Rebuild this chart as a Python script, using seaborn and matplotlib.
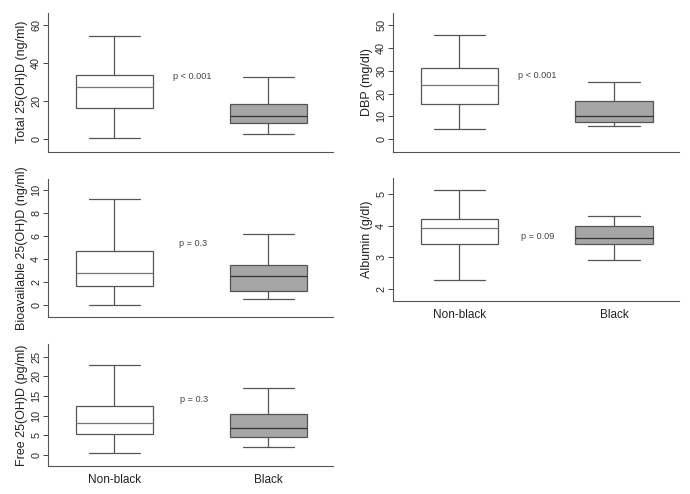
import pandas as pd
import seaborn as sns
import matplotlib.pyplot as plt

# groups and five-number summaries (min, Q1, median, Q3, max)
groups = ['Non-black', 'Black']

total_nonblack = [0.7, 16.3, 27.5, 33.5, 54.4]
total_black = [2.6, 8.7, 12.1, 18.4, 32.8]

dbp_nonblack = [4.5, 15.6, 23.8, 31.1, 45.8]
dbp_black = [5.6, 7.6, 10.0, 16.7, 25.2]

bio_nonblack = [0.0, 1.63, 2.77, 4.66, 9.25]
bio_black = [0.47, 1.2, 2.48, 3.47, 6.21]

alb_nonblack = [2.29, 3.43, 3.92, 4.2, 5.13]
alb_black = [2.9, 3.43, 3.6, 4.0, 4.3]

free_nonblack = [0.42, 5.42, 8.05, 12.54, 22.96]
free_black = [1.95, 4.66, 6.78, 10.5, 16.95]

ylabels = ['Total 25(OH)D (ng/ml)', 'DBP (mg/dl)', 'Bioavailable 25(OH)D (ng/ml)',
           'Albumin (g/dl)', 'Free 25(OH)D (pg/ml)']
pvalues = ['p < 0.001', 'p < 0.001', 'p = 0.3', 'p = 0.09', 'p = 0.3']
p_pos = [(0.38, 33), (0.38, 27.9), (0.42, 5.34), (0.40, 3.67), (0.43, 14.2)]
yticks = [[0, 20, 40, 60], [0, 10, 20, 30, 40, 50], [0, 2, 4, 6, 8, 10],
          [2, 3, 4, 5], [0, 5, 10, 15, 20, 25]]
ylims = [(-6.5, 66.3), (-5.5, 55.5), (-1.08, 11.0), (1.62, 5.5), (-2.8, 28.15)]

panels = [(total_nonblack, total_black), (dbp_nonblack, dbp_black),
          (bio_nonblack, bio_black), (alb_nonblack, alb_black),
          (free_nonblack, free_black)]

sns.set_style('white')
plt.rcParams['font.family'] = ['Liberation Sans', 'DejaVu Sans']

fig = plt.figure(figsize=(6.9, 4.94), dpi=100)

# axes rectangles (left, bottom, width, height)
rects = [(0.070, 0.693, 0.4126, 0.281), (0.570, 0.693, 0.414, 0.281),
         (0.070, 0.358, 0.4126, 0.280), (0.570, 0.391, 0.414, 0.248),
         (0.070, 0.057, 0.4126, 0.246)]
show_x = [False, False, False, True, True]

line_col = '#555555'

for i, (nb, bl) in enumerate(panels):
    ax = fig.add_axes(rects[i])
    df = pd.DataFrame({'group': [groups[0]] * len(nb) + [groups[1]] * len(bl),
                       'value': nb + bl})
    sns.boxplot(data=df, x='group', y='value', order=groups, hue='group',
                palette={'Non-black': 'white', 'Black': '#a6a6a6'},
                whis=(0, 100), width=0.5, linewidth=0.9, linecolor=line_col,
                capwidths=0.33, legend=False, ax=ax)
    # medians: lighter in the white box, darker in the gray one
    for ln in ax.lines:
        xd, yd = ln.get_xdata(), ln.get_ydata()
        if len(xd) == 2 and yd[0] == yd[1] and abs(abs(xd[1] - xd[0]) - 0.5) < 0.01:
            ln.set_color('#777777' if xd[0] < 0.5 else '#333333')
    ax.set_xlim(-0.427, 1.42)
    ax.set_ylim(*ylims[i])
    ax.set_yticks(yticks[i])
    ax.set_yticklabels([str(t) for t in yticks[i]], rotation=90, va='center',
                       fontsize=7.8, color='#2a2a2a')
    ax.tick_params(axis='y', length=3.6, width=0.7, color='#444444', pad=1.5, left=True)
    if show_x[i]:
        ax.set_xticks([0, 1])
        ax.set_xticklabels(groups, fontsize=8.5, color='#222222')
        ax.tick_params(axis='x', length=0, pad=6)
    else:
        ax.set_xticks([])
    ax.set_xlabel('')
    ax.set_ylabel(ylabels[i], fontsize=9, color='#222222', labelpad=2)
    ax.text(p_pos[i][0], p_pos[i][1], pvalues[i], fontsize=6.6,
            color='#444444', ha='left', va='center')
    for s in ['top', 'right']:
        ax.spines[s].set_visible(False)
    for s in ['left', 'bottom']:
        ax.spines[s].set_color('#555555')
        ax.spines[s].set_linewidth(0.8)

fig.savefig('out.png', dpi=100)
